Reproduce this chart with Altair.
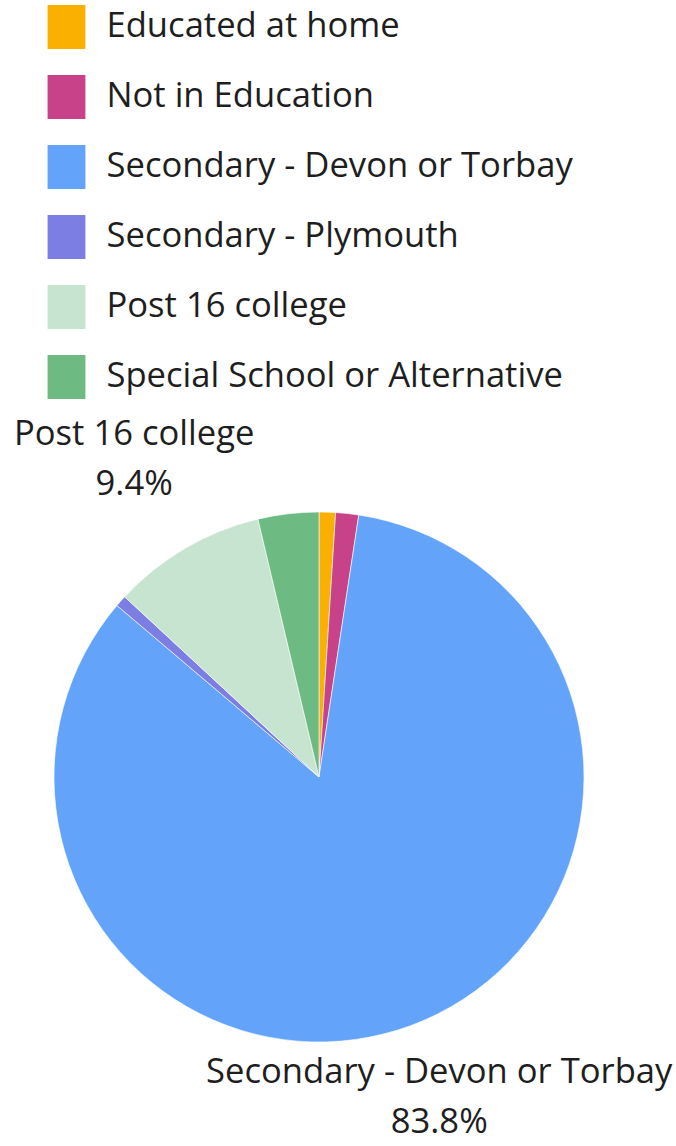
import altair as alt
import pandas as pd

categories = [
    "Educated at home",
    "Not in Education",
    "Secondary - Devon or Torbay",
    "Secondary - Plymouth",
    "Post 16 college",
    "Special School or Alternative",
]
values = [1.0, 1.4, 83.8, 0.7, 9.4, 3.7]
colors = ["#F9B000", "#C8428A", "#63A4FA", "#7D7EE3", "#C7E4D1", "#6DBB83"]
labelled_outer = ["Post 16 college"]
labelled_inner = ["Secondary - Devon or Torbay"]

df = pd.DataFrame({"category": categories, "value": values, "idx": list(range(len(categories)))})

FONT = "Open Sans"
FS = 34.6

base = alt.Chart(df).encode(
    theta=alt.Theta("value:Q", stack=True),
    order=alt.Order("idx:Q", sort="ascending"),
)

arcs = base.mark_arc(outerRadius=265, stroke="white", strokeWidth=0.6).encode(
    color=alt.Color(
        "category:N",
        sort=categories,
        scale=alt.Scale(domain=categories, range=colors),
        legend=alt.Legend(
            title=None,
            orient="none",
            legendX=44.5,
            legendY=-403,
            symbolType="M-0.86,-1L0.86,-1L0.86,1L-0.86,1Z",
            symbolSize=1936,
            symbolStrokeWidth=0,
            rowPadding=26,
            labelFont=FONT,
            labelFontSize=FS,
            labelColor="#1E1E1E",
            labelOffset=18,
            labelLimit=2000,
            padding=0,
        ),
    )
)


def label_layer(names, radius):
    cond = " || ".join("datum.category == '%s'" % n for n in names)
    return base.transform_calculate(
        lab="(%s) ? [datum.category, format(datum.value, '.1f') + '%%'] : ''" % cond
    ).mark_text(
        radius=radius,
        font=FONT,
        fontSize=FS,
        color="#1E1E1E",
        align="center",
        baseline="middle",
        lineHeight=50,
        dy=-25,
    ).encode(text="lab:N")


chart = (
    alt.layer(arcs, label_layer(labelled_outer, 367), label_layer(labelled_inner, 343))
    .properties(
        width=638,
        height=738,
        autosize=alt.AutoSizeParams(type="none"),
        padding={"left": 0, "top": 408, "right": 38, "bottom": 0},
    )
    .configure_view(stroke=None)
)

chart.save("out.html", embed_options={"renderer": "svg", "actions": False})
